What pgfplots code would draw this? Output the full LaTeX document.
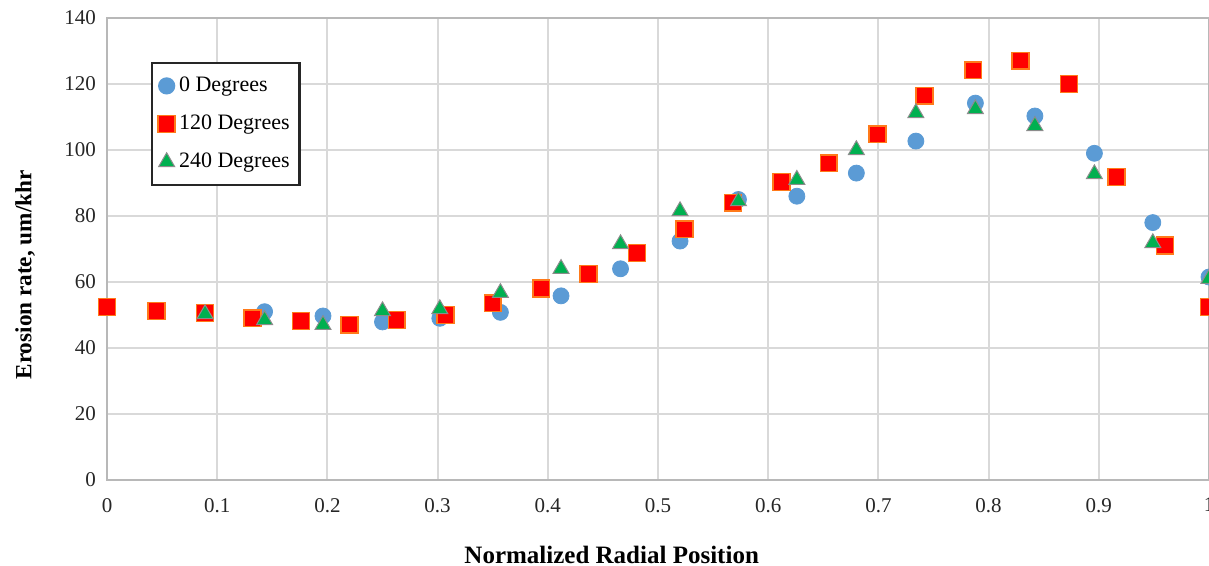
\documentclass[border=0pt]{standalone}
\usepackage{fontspec}
\setmainfont{Liberation Serif}
\usepackage{pgfplots}
\pgfplotsset{compat=1.18}
\definecolor{cblue}{HTML}{5B9BD5}
\definecolor{cred}{HTML}{FF0000}
\definecolor{cora}{HTML}{FF7A1A}
\definecolor{cgreen}{HTML}{00B050}
\definecolor{gridc}{HTML}{D9D9D9}
\begin{document}
\begin{tikzpicture}
\begin{axis}[
  scale only axis,
  width=551pt, height=231pt,
  xmin=0, xmax=1, ymin=0, ymax=140,
  xtick={0,0.1,...,1.0},
  ytick={0,20,...,140},
  xticklabels={0,0.1,0.2,0.3,0.4,0.5,0.6,0.7,0.8,0.9,1},
  /pgf/number format/assume math mode=true,
  ticklabel style={font=\fontsize{10.5}{12}\selectfont, text=black!85},
  xticklabel style={yshift=-5.5pt},
  yticklabel style={xshift=-2pt},
  major tick length=0pt,
  grid=major,
  major grid style={draw=gridc, line width=1pt},
  axis line style={draw=black!28, line width=1pt},
  xlabel={Normalized Radial Position},
  ylabel={Erosion rate, um/khr},
  xlabel style={font=\fontsize{12.5}{14}\selectfont\bfseries, at={(axis description cs:0.458,-0.1623)}, anchor=center},
  ylabel style={font=\fontsize{11.6}{13}\selectfont\bfseries, at={(axis description cs:-0.0744,0.444)}, anchor=center},
  legend cell align=left,
  legend style={at={(axis description cs:0.04,0.905)}, anchor=north west,
    draw=black!85, line width=1.2pt, font=\fontsize{11}{13}\selectfont,
    row sep=6.2pt, inner xsep=3pt, inner ysep=5pt},
  legend image code/.code={\draw[#1, line width=0.6pt] plot coordinates {(0.18cm,0cm)};},
]
\addplot[only marks, mark=*, mark size=4pt, color=cblue, mark options={fill=cblue, draw=cblue}] coordinates {
(0.089,50.6) (0.143,51) (0.196,49.7) (0.250,47.9) (0.302,49) (0.357,50.8)
(0.412,55.8) (0.466,64) (0.520,72.4) (0.573,85) (0.626,86) (0.680,93)
(0.734,102.7) (0.788,114.2) (0.842,110.3) (0.896,99) (0.949,78) (1.0,61.5)
};
\addlegendentry{0 Degrees}
\addplot[only marks, mark=square*, mark size=4.2pt, color=cora, mark options={fill=cred, draw=cora, line width=0.8pt}] coordinates {
(0.0,52.4) (0.045,51.2) (0.089,50.6) (0.132,49) (0.176,48.2) (0.220,47)
(0.263,48.5) (0.307,50) (0.350,53.6) (0.394,58) (0.437,62.4) (0.481,68.8)
(0.524,76) (0.568,84) (0.612,90.3) (0.655,96) (0.699,104.8) (0.742,116.4)
(0.786,124.2) (0.829,127) (0.873,120) (0.916,91.8) (0.960,71) (1.0,52.4)
};
\addlegendentry{120 Degrees}
\addplot[only marks, mark=triangle*, mark size=4.6pt, color=cgreen, mark options={fill=cgreen, draw=black!45, line width=0.5pt}] coordinates {
(0.089,50.3) (0.143,48.5) (0.196,47) (0.250,51.2) (0.302,51.8) (0.357,56.7)
(0.412,64) (0.466,71.5) (0.520,81.5) (0.573,84.5) (0.626,91) (0.680,100)
(0.734,111.2) (0.788,112.4) (0.842,107.3) (0.896,92.7) (0.949,71.8) (1.0,61)
};
\addlegendentry{240 Degrees}
\end{axis}
\pgfresetboundingbox
\path[use as bounding box] ([xshift=-53.5pt,yshift=-43pt]current axis.south west) rectangle ([yshift=9pt]current axis.north east);
\end{tikzpicture}
\end{document}
